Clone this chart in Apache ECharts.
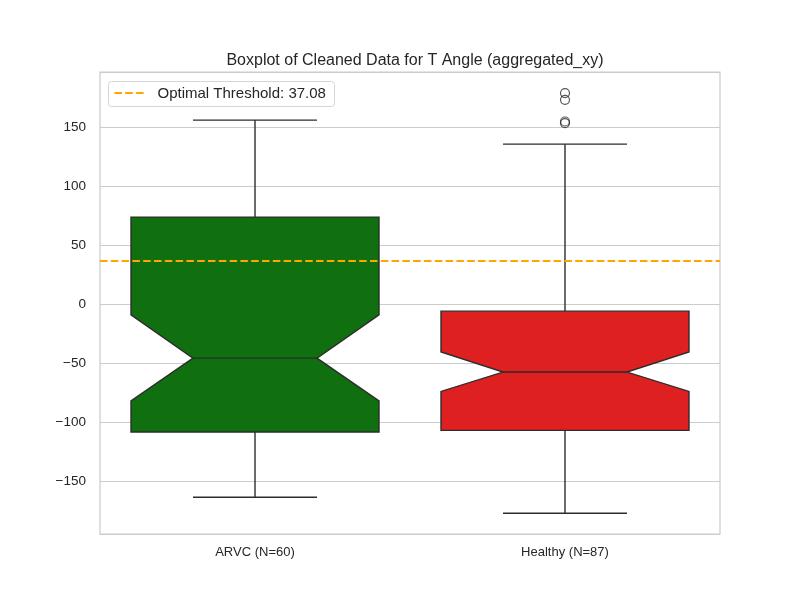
<!DOCTYPE html>
<html>
<head>
<meta charset="utf-8">
<script src="https://cdn.jsdelivr.net/npm/echarts@6/dist/echarts.min.js"></script>
<style>html,body{margin:0;padding:0;background:#fff}#c{width:800px;height:600px}</style>
</head>
<body>
<div id="c"></div>
<script>
const categories = ['ARVC (N=60)', 'Healthy (N=87)'];
const whiskerLow = [-163.8, -177.4];
const q1 = [-108.4, -107.1];
const notchLow = [-82.1, -74.0];
const median = [-45.8, -57.6];
const notchHigh = [-9.1, -40.6];
const q3 = [73.9, -5.9];
const whiskerHigh = [156.2, 135.8];
const outliers = [[1, 179.1], [1, 173.4], [1, 155.0], [1, 153.7]];
const threshold = 37.08;
const yTicks = [-150, -100, -50, 0, 50, 100, 150];
const boxColors = ['#107010', '#df2020'];

const FONT = '"Liberation Sans", Arial, sans-serif';
const TEXT = '#262626';
const EDGE = '#2d2d2d';

const boxData = categories.map((c, i) => [i, whiskerLow[i], q1[i], notchLow[i], median[i], notchHigh[i], q3[i], whiskerHigh[i]]);

const chart = echarts.init(document.getElementById('c'), null, {renderer: 'canvas'});

function renderBox(params, api) {
  const xi = api.value(0);
  const wl = api.value(1), lq = api.value(2), nl = api.value(3), md = api.value(4), nh = api.value(5), uq = api.value(6), wh = api.value(7);
  const cx = api.coord([xi, md])[0];
  const band = api.size([1, 0])[0];
  const hw = band * 0.4;
  const nw = hw * 0.5;
  const cw = hw * 0.5;
  const y = v => api.coord([xi, v])[1];
  const lineStyle = {stroke: EDGE, lineWidth: 1.4};
  return {
    type: 'group',
    children: [
      {type: 'line', shape: {x1: cx, y1: y(uq), x2: cx, y2: y(wh)}, style: lineStyle},
      {type: 'line', shape: {x1: cx - cw, y1: y(wh), x2: cx + cw, y2: y(wh)}, style: lineStyle},
      {type: 'line', shape: {x1: cx, y1: y(lq), x2: cx, y2: y(wl)}, style: lineStyle},
      {type: 'line', shape: {x1: cx - cw, y1: y(wl), x2: cx + cw, y2: y(wl)}, style: lineStyle},
      {type: 'polygon', shape: {points: [
        [cx - hw, y(uq)], [cx + hw, y(uq)], [cx + hw, y(nh)], [cx + nw, y(md)],
        [cx + hw, y(nl)], [cx + hw, y(lq)], [cx - hw, y(lq)], [cx - hw, y(nl)],
        [cx - nw, y(md)], [cx - hw, y(nh)]
      ]}, style: {fill: boxColors[xi], stroke: EDGE, lineWidth: 1.4}},
      {type: 'line', shape: {x1: cx - nw, y1: y(md), x2: cx + nw, y2: y(md)}, style: lineStyle}
    ]
  };
}

const option = {
  animation: false,
  backgroundColor: '#ffffff',
  title: {
    text: 'Boxplot of Cleaned Data for T Angle (aggregated_xy)',
    left: 410, top: 48, textAlign: 'center',
    textStyle: {fontFamily: FONT, fontSize: 16, fontWeight: 'normal', color: TEXT}
  },
  grid: {left: 100, right: 80, top: 72, bottom: 66, show: true, borderColor: '#cccccc', borderWidth: 1.25, backgroundColor: 'transparent'},
  xAxis: {
    type: 'category', data: categories, boundaryGap: true,
    axisLine: {show: false}, axisTick: {show: false}, splitLine: {show: false},
    axisLabel: {fontFamily: FONT, fontSize: 13, color: TEXT, margin: 12}
  },
  yAxis: {
    type: 'value', min: -195, max: 197, splitNumber: 8,
    axisLine: {show: false}, axisTick: {show: false},
    splitLine: {show: true, lineStyle: {color: '#cccccc', width: 1}},
    axisLabel: {
      fontFamily: FONT, fontSize: 13.5, color: TEXT, margin: 14,
      showMinLabel: false, showMaxLabel: false,
      formatter: v => yTicks.includes(v) ? String(v).replace('-', '\u2212') : ''
    }
  },
  series: [
    {
      type: 'custom', name: 'box', renderItem: renderBox, data: boxData,
      encode: {x: 0, y: [1, 2, 3, 4, 5, 6, 7]}, z: 2
    },
    {
      type: 'scatter', name: 'outliers', data: outliers, symbol: 'circle', symbolSize: 9,
      itemStyle: {color: 'rgba(0,0,0,0)', borderColor: EDGE, borderWidth: 1.2}, z: 3
    },
    {
      type: 'line', name: 'threshold', data: [], symbol: 'none',
      markLine: {
        silent: true, symbol: ['none', 'none'], label: {show: false},
        lineStyle: {color: '#ffa500', type: [7.5, 3.3], width: 1.8},
        data: [{yAxis: threshold}]
      }, z: 4
    }
  ],
  graphic: [
    {
      type: 'group', left: 108, top: 81, z: 100,
      children: [
        {type: 'rect', shape: {x: 0, y: 0, width: 226, height: 25, r: 3}, style: {fill: 'rgba(255,255,255,0.8)', stroke: '#d5d5d5', lineWidth: 1}},
        {type: 'line', shape: {x1: 6, y1: 11.5, x2: 36, y2: 11.5}, style: {stroke: '#ffa500', lineWidth: 1.8, lineDash: [7.5, 3.3]}},
        {type: 'text', x: 49, y: 12, style: {text: 'Optimal Threshold: ' + threshold.toFixed(2), fontFamily: FONT, fontSize: 15, fill: TEXT, verticalAlign: 'middle', align: 'left'}}
      ]
    }
  ]
};
chart.setOption(option);
</script>
</body>
</html>
